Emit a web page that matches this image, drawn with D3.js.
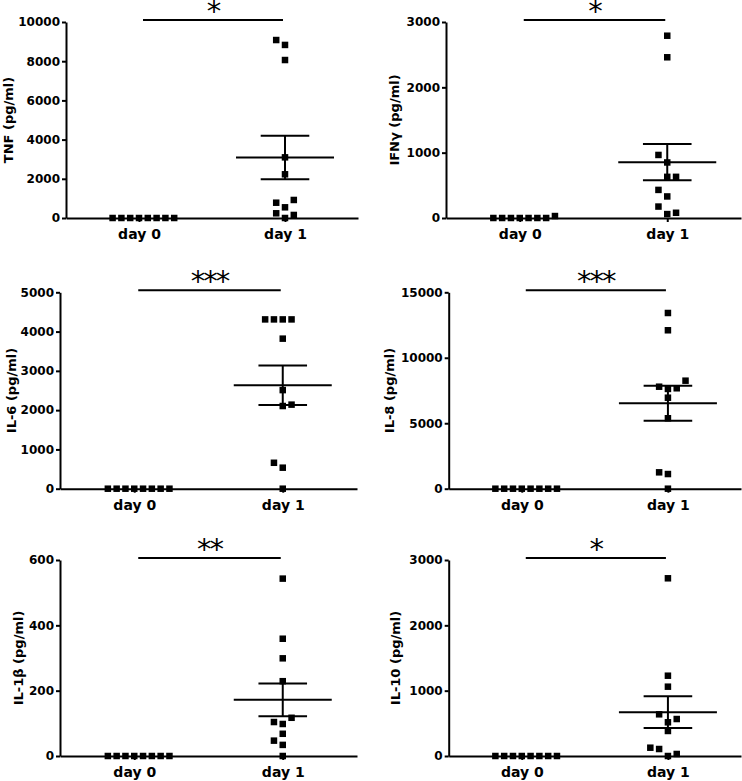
<!DOCTYPE html>
<html><head><meta charset="utf-8">
<script src="https://cdn.jsdelivr.net/npm/d3@7"></script>
<style>body{margin:0;background:#fff} svg{display:block}</style>
</head><body>
<svg id="c" width="742" height="781"></svg>
<script>
// ---------------- data ----------------
const categories = ["day 0", "day 1"];
const yLabels = ["TNF (pg/ml)", "IFNγ  (pg/ml)", "IL-6 (pg/ml)", "IL-8 (pg/ml)", "IL-1β  (pg/ml)", "IL-10 (pg/ml)"];
const yMax = [10000, 3000, 5000, 15000, 600, 3000];
const yTickValues = [
  [0, 2000, 4000, 6000, 8000, 10000],
  [0, 1000, 2000, 3000],
  [0, 1000, 2000, 3000, 4000, 5000],
  [0, 5000, 10000, 15000],
  [0, 200, 400, 600],
  [0, 1000, 2000, 3000]
];
const day0Values = [
  [0, 0, 0, 0, 0, 0, 0, 0],
  [0, 0, 0, 0, 0, 0, 0, 30],
  [0, 0, 0, 0, 0, 0, 0, 0],
  [0, 0, 0, 0, 0, 0, 0, 0],
  [0, 0, 0, 0, 0, 0, 0, 0],
  [0, 0, 0, 0, 0, 0, 0, 0]
];
const day1Values = [
  [8830, 9080, 8060, 3095, 2230, 545, 0, 920, 780, 155, 240],
  [2790, 2460, 850, 965, 630, 630, 330, 430, 60, 80, 175],
  [4310, 4310, 4310, 4310, 3820, 2510, 2105, 2140, 535, 0, 660],
  [13420, 12100, 7620, 6950, 5380, 1120, 0, 1250, 7670, 7790, 8250],
  [543, 359, 299, 229, 98, 68, 34, 0, 104, 117, 47],
  [2720, 1229, 1061, 516, 383, 0, 638, 566, 107, 31, 127]
];
const day1Mean = [3085, 855, 2635, 6530, 172, 670];
const day1Sem = [1113, 278, 504, 1337, 50, 243];
const significance = ["*", "*", "***", "***", "**", "*"];

// ---------------- layout ----------------
const layout = [
  {ax: 66,    xEnd: 358, top: 22,    bottom: 218,   labelX: 8},
  {ax: 446,   xEnd: 741, top: 22,    bottom: 218,   labelX: 394},
  {ax: 60,    xEnd: 357, top: 292.3, bottom: 488.7, labelX: 11},
  {ax: 448.7, xEnd: 741, top: 292.3, bottom: 488.7, labelX: 389},
  {ax: 60,    xEnd: 357, top: 560,   bottom: 756,   labelX: 18.5},
  {ax: 448.7, xEnd: 741, top: 560,   bottom: 756,   labelX: 395}
];
const FONT = "'DejaVu Sans', Verdana, sans-serif";
const SLOT = 8.8, HIT = 8.5, MK = 6.5;

const svg = d3.select("#c");

// scatter dodge: collided points are pushed sideways, alternating sides
function makeDodger() {
  let pref = 1;
  return function (values, y) {
    const placed = [];
    const free = (k, py) => !placed.some(p => p.s === k && Math.abs(p.y - py) < HIT);
    return values.map(v => {
      const py = y(v);
      let s = 0;
      if (!free(0, py)) {
        outer: for (let d = 1; d < 12; d++) {
          for (const side of [pref, -pref]) {
            if (free(side * d, py)) { s = side * d; break outer; }
          }
        }
        pref = -pref;
      }
      placed.push({s, y: py});
      return {v, s, y: py};
    });
  };
}

yLabels.forEach((lab, i) => {
  const L = layout[i];
  const g = svg.append("g");
  const x = d3.scalePoint().domain(categories).range([L.ax, L.xEnd]).padding(0.5);
  const y = d3.scaleLinear().domain([0, yMax[i]]).range([L.bottom, L.top]);

  // y axis
  const ya = g.append("g").attr("transform", `translate(${L.ax},0)`)
    .call(d3.axisLeft(y).tickValues(yTickValues[i]).tickSize(4).tickPadding(2).tickSizeOuter(0).tickFormat(d3.format("d")));
  ya.selectAll("text").attr("font-family", FONT).attr("font-weight", "bold").attr("font-size", 12).attr("fill", "#000");

  // x axis
  const xa = g.append("g").attr("transform", `translate(0,${L.bottom})`)
    .call(d3.axisBottom(x).tickSize(4).tickPadding(7).tickSizeOuter(0));
  xa.selectAll("text").attr("font-family", FONT).attr("font-weight", "bold").attr("font-size", 14).attr("fill", "#000");

  [ya, xa].forEach(a => {
    a.selectAll("path.domain").attr("stroke", "#000").attr("stroke-width", 2);
    a.selectAll(".tick line").attr("stroke", "#000").attr("stroke-width", 2);
  });

  // y label
  g.append("text")
    .attr("transform", `translate(${L.labelX},${(L.top + L.bottom) / 2}) rotate(-90)`)
    .attr("text-anchor", "middle").attr("dy", "0.36em")
    .attr("font-family", FONT).attr("font-weight", "bold").attr("font-size", 13)
    .text(lab);

  // points
  const dodge = makeDodger();
  [day0Values[i], day1Values[i]].forEach((vals, gi) => {
    const cx = x(categories[gi]);
    const pts = dodge(vals, y);
    g.selectAll(null).data(pts).enter().append("rect")
      .attr("x", d => cx + d.s * SLOT - MK / 2)
      .attr("y", d => d.y - MK / 2)
      .attr("width", MK).attr("height", MK)
      .attr("fill", "#000");
  });

  // mean ± SEM on day 1
  const c1 = x(categories[1]);
  const m = day1Mean[i], se = day1Sem[i];
  const lines = [
    [c1 - 49, y(m), c1 + 49, y(m)],
    [c1 - 24.3, y(m + se), c1 + 24.3, y(m + se)],
    [c1 - 24.3, y(m - se), c1 + 24.3, y(m - se)],
    [c1, y(m + se), c1, y(m - se)]
  ];
  g.selectAll(null).data(lines).enter().append("line")
    .attr("x1", d => d[0]).attr("y1", d => d[1]).attr("x2", d => d[2]).attr("y2", d => d[3])
    .attr("stroke", "#000").attr("stroke-width", 2);

  // significance bar
  const bx0 = x(categories[0]) + 4, bx1 = x(categories[1]) - 2, by = L.top - 2;
  g.append("line").attr("x1", bx0).attr("x2", bx1).attr("y1", by).attr("y2", by)
    .attr("stroke", "#000").attr("stroke-width", 2);
  g.append("text").attr("x", (bx0 + bx1) / 2).attr("y", by + 1)
    .attr("text-anchor", "middle").attr("font-family", FONT).attr("font-size", 29)
    .attr("letter-spacing", -2)
    .text(significance[i]);
});
</script>
</body></html>
